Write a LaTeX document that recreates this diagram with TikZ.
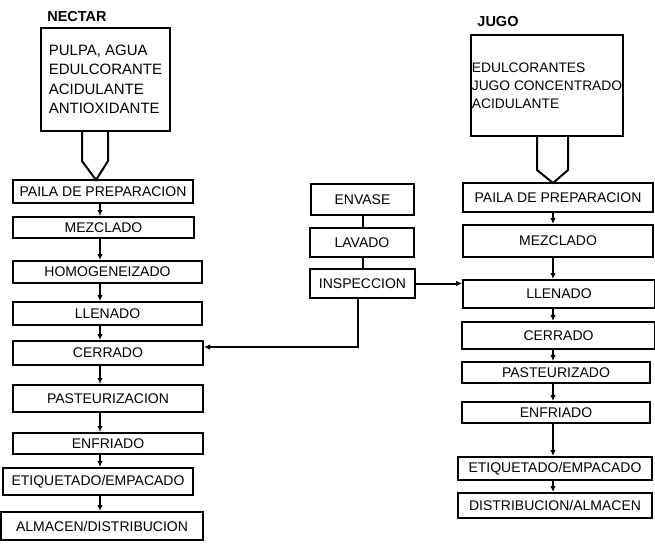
\documentclass[tikz,border=0pt]{standalone}
\usepackage{fontspec}
\setmainfont{Liberation Sans}
\usetikzlibrary{arrows.meta}
\begin{document}
\begin{tikzpicture}[x=1pt, y=-1pt, line width=2pt,
      box/.style={draw, inner sep=0pt, font=\fontsize{14}{16}\selectfont},
      ing/.style={draw, inner sep=0pt, align=left, font=\fontsize{15}{19.5}\selectfont},
      arr/.style={-{Latex[length=6pt,width=5.5pt]}}]
      \useasboundingbox (0,0) rectangle (655,549);
      \coordinate (colL) at (100,0);
      \coordinate (colM) at (363,0);
      \coordinate (colR) at (553,0);
      % nectar
      \node[font=\bfseries\fontsize{14.5}{16}\selectfont] (nectar) at (77,17) {NECTAR};
      \node[ing, minimum width=129pt, minimum height=103pt] (ingN) at (105.5,79.5)
            {PULPA, AGUA\\EDULCORANTE\\ACIDULANTE\\ANTIOXIDANTE};
      \draw (82,131) -- (82,161) -- (96,180) -- (108,161) -- (108,131);
      \node[box, minimum width=180pt, minimum height=23pt] (pailaN) at (103,191.5) {PAILA DE PREPARACION};
      \node[box, minimum width=181pt, minimum height=21pt] (mezN) at (103.5,227.5) {MEZCLADO};
      \node[box, minimum width=189pt, minimum height=22pt] (homN) at (107.5,272) {HOMOGENEIZADO};
      \node[box, minimum width=189pt, minimum height=23pt] (lleN) at (107.5,313.5) {LLENADO};
      \node[box, minimum width=190pt, minimum height=24pt] (cerN) at (108,353) {CERRADO};
      \node[box, minimum width=190pt, minimum height=27pt] (pasN) at (108,398.5) {PASTEURIZACION};
      \node[box, minimum width=190pt, minimum height=21pt] (enfN) at (108,443.5) {ENFRIADO};
      \node[box, minimum width=190pt, minimum height=27pt] (etiN) at (98,481.5) {ETIQUETADO/EMPACADO};
      \node[box, minimum width=202pt, minimum height=28pt] (almN) at (102,526) {ALMACEN/DISTRIBUCION};
      \foreach \a/\b in {pailaN/mezN, mezN/homN, homN/lleN, lleN/cerN,
                         cerN/pasN, pasN/enfN, enfN/etiN, etiN/almN}
            \draw[arr] (\a.south -| colL) -- (\b.north -| colL);
      % envase
      \node[box, minimum width=103pt, minimum height=31pt] (envase) at (362.5,199.5) {ENVASE};
      \node[box, minimum width=104pt, minimum height=29pt] (lavado) at (362,242.5) {LAVADO};
      \node[box, minimum width=105pt, minimum height=29pt] (insp) at (362.5,283.5) {INSPECCION};
      \coordinate (turn) at (358,347);
      \draw (envase.south -| colM) -- (lavado.north -| colM)
            (lavado.south -| colM) -- (insp.north -| colM);
      \draw[arr] (insp.south -| turn) -- (turn) -- (turn -| cerN.east);
      % jugo
      \node[font=\bfseries\fontsize{14.5}{16}\selectfont] (jugo) at (498,22) {JUGO};
      \node[ing, minimum width=152pt, minimum height=101pt,
            font=\fontsize{13.8}{18}\selectfont] (ingJ) at (547,85.5)
            {EDULCORANTES\\JUGO CONCENTRADO\\ACIDULANTE};
      \draw (537,136) -- (537,170) -- (553,183) -- (568,170) -- (568,136);
      \node[box, minimum width=190pt, minimum height=29pt] (pailaJ) at (558,197.5) {PAILA DE PREPARACION};
      \node[box, minimum width=190pt, minimum height=32pt] (mezJ) at (558,241) {MEZCLADO};
      \node[box, minimum width=192pt, minimum height=28pt] (lleJ) at (559,294) {LLENADO};
      \node[box, minimum width=193pt, minimum height=27pt] (cerJ) at (558.5,335.5) {CERRADO};
      \node[box, minimum width=188pt, minimum height=21pt] (pasJ) at (556,372.5) {PASTEURIZADO};
      \node[box, minimum width=188pt, minimum height=21pt] (enfJ) at (556,412.5) {ENFRIADO};
      \node[box, minimum width=194pt, minimum height=23pt] (etiJ) at (555,468.5) {ETIQUETADO/EMPACADO};
      \node[box, minimum width=194pt, minimum height=25pt] (disJ) at (555,505.5) {DISTRIBUCION/ALMACEN};
      \foreach \a/\b in {pailaJ/mezJ, mezJ/lleJ, lleJ/cerJ, cerJ/pasJ,
                         pasJ/enfJ, enfJ/etiJ, etiJ/disJ}
            \draw[arr] (\a.south -| colR) -- (\b.north -| colR);
      \draw[arr] (insp.east) -- (insp.east -| lleJ.west);
\end{tikzpicture}
\end{document}
